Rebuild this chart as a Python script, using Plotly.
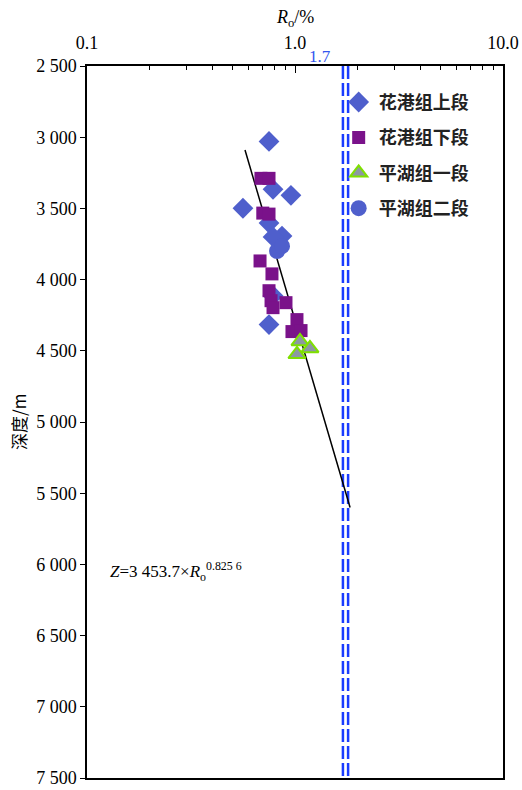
import plotly.graph_objects as go

# Vitrinite reflectance (Ro, %) vs burial depth (m) by formation member
upper_hg_ro = [0.750, 0.784, 0.956, 0.562, 0.750, 0.866, 0.784, 0.784, 0.750]
upper_hg_depth = [3030, 3366, 3408, 3499, 3603, 3694, 3700, 4113, 4316]

lower_hg_ro = [0.686, 0.750, 0.700, 0.750, 0.679, 0.775, 0.750, 0.767, 0.784, 0.905, 1.022, 0.967, 1.069]
lower_hg_depth = [3289, 3289, 3533, 3540, 3869, 3960, 4078, 4148, 4197, 4162, 4281, 4365, 4358]

ph1_ro = [1.057, 1.180, 1.022]
ph1_depth = [4434, 4483, 4525]

ph2_ro = [0.820, 0.866]
ph2_depth = [3799, 3765]

# Trend line end points
fit_ro = [0.575, 1.84]
fit_depth = [3090, 5600]

# Threshold lines
guide_ro = [1.7, 1.8]

x_ticks = [0.1, 1, 10]
x_tick_text = ["0.1", "1.0", "10.0"]
x_minor = [0.2, 0.3, 0.4, 0.5, 0.6, 0.7, 0.8, 0.9, 2, 3, 4, 5, 6, 7, 8, 9]
y_ticks = [2500, 3000, 3500, 4000, 4500, 5000, 5500, 6000, 6500, 7000, 7500]
y_tick_text = ["2 500", "3 000", "3 500", "4 000", "4 500", "5 000",
               "5 500", "6 000", "6 500", "7 000", "7 500"]

SERIF = "Liberation Serif, Times New Roman, serif"
CJK = "Noto Sans CJK SC"
BLUE = "#4F5FCC"
PURPLE = "#7A128A"

fig = go.Figure()

for gx in guide_ro:
    fig.add_trace(go.Scatter(
        x=[gx, gx], y=[2500, 7500], mode="lines",
        line=dict(color="#1A3CFF", width=2.5, dash="13px,4px"),
        showlegend=False, hoverinfo="skip"))

fig.add_trace(go.Scatter(
    x=fit_ro, y=fit_depth, mode="lines",
    line=dict(color="black", width=1.5), showlegend=False))

fig.add_trace(go.Scatter(
    x=upper_hg_ro, y=upper_hg_depth, mode="markers", name="花港组上段",
    legendgroup="a",
    marker=dict(symbol="diamond", size=16, color=BLUE, line=dict(width=0))))
fig.add_trace(go.Scatter(
    x=lower_hg_ro, y=lower_hg_depth, mode="markers", name="花港组下段",
    legendgroup="b",
    marker=dict(symbol="square", size=13, color=PURPLE, line=dict(width=0))))
fig.add_trace(go.Scatter(
    x=ph1_ro, y=ph1_depth, mode="markers", name="平湖组一段",
    legendgroup="c",
    marker=dict(symbol="triangle-up", size=15, color="#8C98A2",
                line=dict(width=2, color="#7FE000"))))
fig.add_trace(go.Scatter(
    x=ph2_ro, y=ph2_depth, mode="markers", name="平湖组二段",
    legendgroup="d",
    marker=dict(symbol="circle", size=16, color=BLUE, line=dict(width=0))))

fig.update_layout(
    width=522, height=790,
    margin=dict(l=87, r=19, t=66, b=12),
    paper_bgcolor="white", plot_bgcolor="white",
    showlegend=True,
    legend=dict(x=0.605, y=0.975, xanchor="left", yanchor="top",
                bgcolor="rgba(255,255,255,0)", tracegroupgap=9,
                font=dict(family=CJK, size=18, color="#222222", weight="bold")),
    xaxis=dict(
        type="log", range=[-1, 1], side="top", automargin=False,
        tickvals=x_ticks, ticktext=x_tick_text,
        ticks="inside", ticklen=7, tickwidth=1.2, tickcolor="black",
        ticklabelstandoff=8, ticklabeloverflow="allow",
        minor=dict(tickvals=x_minor, ticks="inside", ticklen=4,
                   tickcolor="black", showgrid=False),
        showline=True, linecolor="black", linewidth=1.5, mirror=True,
        showgrid=False, zeroline=False,
        tickfont=dict(family=SERIF, size=18, color="black")),
    yaxis=dict(
        range=[7500, 2500], automargin=False,
        tickvals=y_ticks, ticktext=y_tick_text,
        ticks="outside", ticklen=5, tickwidth=1.2, tickcolor="black",
        ticklabeloverflow="allow",
        showline=True, linecolor="black", linewidth=1.5, mirror=True,
        showgrid=False, zeroline=False,
        tickfont=dict(family=SERIF, size=18, color="black")),
)

fig.add_annotation(
    text="<i>R</i><sub>o</sub>/%", xref="paper", yref="paper",
    x=0.5, y=1.067, xanchor="center", yanchor="middle", showarrow=False,
    font=dict(family=SERIF, size=18, color="black"))

fig.add_annotation(
    text="深度/m", xref="paper", yref="paper",
    x=-0.166, y=0.5, xanchor="center", yanchor="middle", textangle=-90,
    showarrow=False, font=dict(family=CJK, size=17, color="black"))

fig.add_annotation(
    text="1.7", xref="x", yref="paper", x=0.12, y=1.013,
    xanchor="center", yanchor="middle", showarrow=False,
    font=dict(family=SERIF, size=17, color="#3355EE"))

fig.add_annotation(
    text="<i>Z</i>=3 453.7×<i>R</i><sub>o</sub><sup style='font-size:11px'>0.825 6</sup>",
    xref="paper", yref="paper", x=0.05, y=0.29,
    xanchor="left", yanchor="middle", showarrow=False,
    font=dict(family=SERIF, size=17, color="black"))

fig.write_html("out.html")
